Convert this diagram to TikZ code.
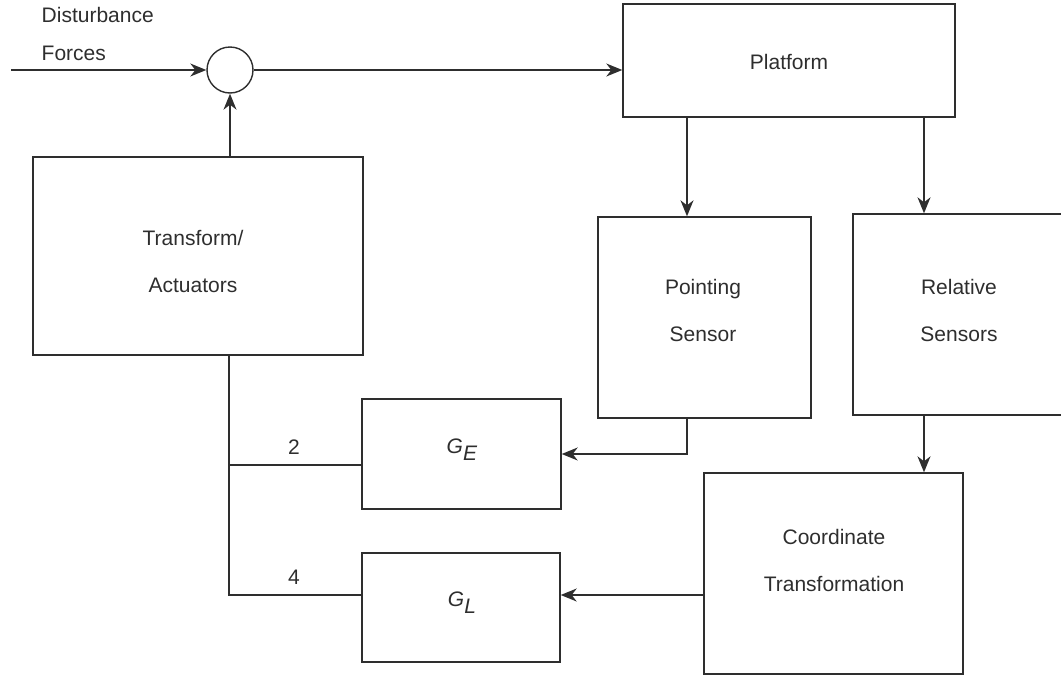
\documentclass[tikz,border=0pt]{standalone}
\usepackage{fontspec}
\setmainfont{Liberation Sans}
\usetikzlibrary{arrows.meta}
\begin{document}
\begin{tikzpicture}[x=1pt,y=-1pt,
  line width=1.4pt, color=black!82,
  box/.style={draw, rectangle, inner sep=0pt},
  txt/.style={font=\fontsize{21}{47}\selectfont, align=center, inner sep=0pt},
  arr/.style={-{Stealth[length=16pt,width=13pt,inset=5pt]}},
]
\useasboundingbox (0,0) rectangle (1061,675);

% boxes
\node[circle,draw,minimum size=46pt,inner sep=0pt] (circ) at (230,70) {};
\node[box,minimum width=332pt,minimum height=113pt] (plat) at (789,60.5) {};
\node[box,minimum width=330pt,minimum height=198pt] (trans) at (198,256) {};
\node[box,minimum width=213pt,minimum height=201pt] (point) at (704.5,317.5) {};
\node[box,minimum width=212pt,minimum height=201pt] (rel) at (959,314.5) {};
\node[box,minimum width=199pt,minimum height=110pt] (ge) at (461.5,454) {};
\node[box,minimum width=198pt,minimum height=109pt] (gl) at (461,607.5) {};
\node[box,minimum width=259pt,minimum height=201pt] (coord) at (833.5,573.5) {};

% texts
\node[txt,anchor=west] (dist1) at (41,15) {Disturbance};
\node[txt,anchor=west] (dist2) at (41,53) {Forces};
\node[txt] (platt) at (789,62) {Platform};
\node[txt] (transt) at (193,261) {Transform/\\Actuators};
\node[txt] (pointt) at (703,310) {Pointing\\Sensor};
\node[txt] (relt) at (959,310) {Relative\\Sensors};
\node[txt] (coordt) at (834,560) {Coordinate\\Transformation};
\node[txt] (get) at (462,450) {\textit{G}\raisebox{-7pt}{\textit{E}}};
\node[txt] (glt) at (462,603) {\textit{G}\raisebox{-7pt}{\textit{L}}};
\node[txt] (lab2) at (294,447) {2};
\node[txt] (lab4) at (294,577) {4};

% helper coordinates
\coordinate (din) at (11,70);
\coordinate (pa) at (687,0);
\coordinate (ra) at (924,0);
\coordinate (tx) at (229,0);
\coordinate (yE) at (0,465);
\coordinate (yL) at (0,595);
\coordinate (yP) at (0,454);

% connectors
\draw[arr] (din) -- (circ.west);
\draw[arr] (circ.east) -- (circ.east -| plat.west);
\draw[arr] (trans.north -| circ.south) -- (circ.south);
\draw[arr] (pa |- plat.south) -- (pa |- point.north);
\draw[arr] (ra |- plat.south) -- (ra |- rel.north);
\draw[arr] (pa |- point.south) -- (pa |- yP) -- (ge.east |- yP);
\draw[arr] (ra |- rel.south) -- (ra |- coord.north);
\draw[arr] (coord.west |- yL) -- (gl.east |- yL);
\draw (tx |- trans.south) -- (tx |- yL) -- (gl.west |- yL);
\draw (tx |- yE) -- (ge.west |- yE);
\end{tikzpicture}
\end{document}
